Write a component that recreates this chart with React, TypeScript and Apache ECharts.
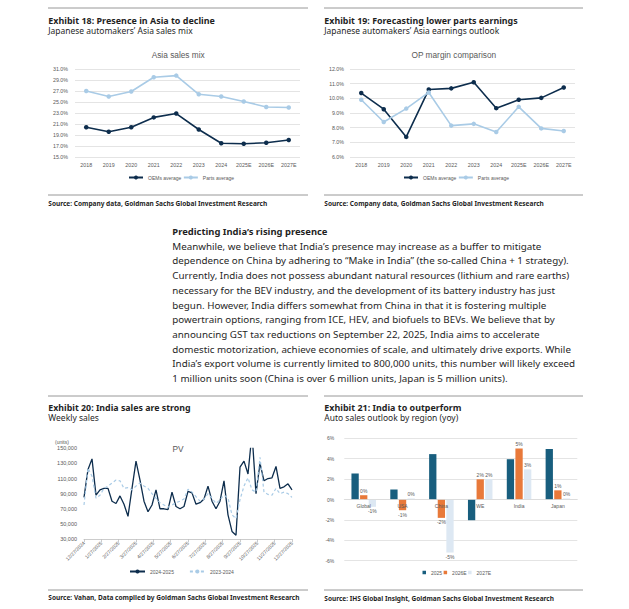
import React, { useEffect, useRef } from 'react';
import * as echarts from 'echarts';

// ---------- data ----------
const years = ['2018', '2019', '2020', '2021', '2022', '2023', '2024', '2025E', '2026E', '2027E'];
const asiaMixOEM = [20.4, 19.6, 20.4, 22.2, 22.9, 20.0, 17.5, 17.4, 17.6, 18.1];
const asiaMixParts = [27.0, 26.0, 26.9, 29.5, 29.8, 26.4, 26.0, 25.1, 24.1, 24.0];
const opMarginOEM = [10.36, 9.26, 7.37, 10.6, 10.68, 11.1, 9.33, 9.9, 10.03, 10.74];
const opMarginParts = [9.9, 8.39, 9.3, 10.4, 8.14, 8.26, 7.7, 9.42, 7.95, 7.77];

const monthLabels = [
  '12/27/2024', '1/27/2025', '2/27/2025', '3/27/2025', '4/27/2025', '5/27/2025', '6/27/2025',
  '7/27/2025', '8/27/2025', '9/27/2025', '10/27/2025', '11/27/2025', '12/27/2025',
];
const sales2425 = [
  85000, 122000, 136000, 88000, 95000, 97000, 97000, 80000, 77000, 87000,
  76000, 60000, 97000, 133000, 108000, 80000, 66000, 75000, 95000, 70000,
  70000, 69000, 92000, 73000, 70000, 73000, 93000, 91000, 76000, 78000,
  83000, 100000, 80000, 70000, 80000, 107000, 62000, 40000, 35000, 125000,
  133000, 116000, 170000, 90000, 130000, 107000, 110000, 111000, 126000, 97000,
  99000, 103000, 95000,
];
const sales2324 = [
  75000, 124000, 113000, 84000, 88000, 97000, 100000, 104000, 108000, 107000,
  97000, 98000, 95000, 100000, 104000, 100000, 97000, 90000, 84000, 78000,
  75000, 72000, 75000, 78000, 80000, 83000, 96000, 92000, 86000, 80000,
  83000, 90000, 84000, 77000, 82000, 88000, 84000, 62000, 57000, 82000,
  100000, 111000, 95000, 92000, 138000, 92000, 89000, 88000, 97000, 90000,
  92000, 90000, 85000,
];

const regions = ['Global', 'USA', 'China', 'WE', 'India', 'Japan'];
const yoy2025 = [2.55, 0.98, 4.45, -2.03, 3.95, 4.95];
const yoy2026E = [0.42, -1.05, -1.8, 1.98, 5.0, 0.9];
const yoy2027E = [-0.72, 0.1, -5.2, 2.0, 2.95, 0.1];

const paragraphTitle = 'Predicting India\u2019s rising presence';
const paragraphLines = [
  'Meanwhile, we believe that India\u2019s presence may increase as a buffer to mitigate',
  'dependence on China by adhering to \u201cMake in India\u201d (the so-called China + 1 strategy).',
  'Currently, India does not possess abundant natural resources (lithium and rare earths)',
  'necessary for the BEV industry, and the development of its battery industry has just',
  'begun. However, India differs somewhat from China in that it is fostering multiple',
  'powertrain options, ranging from ICE, HEV, and biofuels to BEVs. We believe that by',
  'announcing GST tax reductions on September 22, 2025, India aims to accelerate',
  'domestic motorization, achieve economies of scale, and ultimately drive exports. While',
  'India\u2019s export volume is currently limited to 800,000 units, this number will likely exceed',
  '1 million units soon (China is over 6 million units, Japan is 5 million units).',
];

// ---------- style ----------
const W = 629;
const H = 609;
const NAVY = '#0d2d4d';
const LIGHT = '#a9cbe6';
const DARK_TEAL = '#185e7e';
const ORANGE = '#e8793a';
const PALE = '#dde8f3';
const GRAY_TXT = '#595959';
const GRID_LINE = '#d9d9d9';
const RULE = '#7f7f7f';
const HEAD_FAMILY = '"Noto Sans", sans-serif';
const CHART_FAMILY = '"Liberation Sans", Arial, sans-serif';

function weekLabels(n: number): string[] {
  const out: string[] = [];
  const start = new Date(2024, 11, 27);
  for (let i = 0; i < n; i++) {
    const d = new Date(start.getTime());
    d.setDate(d.getDate() + 7 * i);
    out.push(`${d.getMonth() + 1}/${d.getDate()}/${d.getFullYear()}`);
  }
  return out;
}

let ctx: CanvasRenderingContext2D | null = null;
function measure(text: string, font: string): number {
  if (!ctx) ctx = document.createElement('canvas').getContext('2d');
  if (!ctx) return 0;
  ctx.font = font;
  return ctx.measureText(text).width;
}

function headText(text: string, x: number, y: number, size: number, weight: string, targetW: number | null, fill = '#1f1f1f', scaleOverride?: number) {
  const font = `${weight} ${size}px ${HEAD_FAMILY}`;
  let sx = 1;
  if (scaleOverride != null) sx = scaleOverride;
  else if (targetW) {
    const w = measure(text, font);
    if (w > 0) sx = targetW / w;
  }
  return {
    type: 'text',
    x,
    y,
    scaleX: sx,
    silent: true,
    style: {
      text,
      fontSize: size,
      fontWeight: weight,
      fontFamily: HEAD_FAMILY,
      fill,
      align: 'left',
      verticalAlign: 'middle',
    },
  };
}

function chartText(text: string, x: number, y: number, size: number, align = 'center') {
  return {
    type: 'text',
    x,
    y,
    silent: true,
    style: { text, fontSize: size, fontFamily: CHART_FAMILY, fill: GRAY_TXT, align, verticalAlign: 'middle' },
  };
}

function rule(x1: number, x2: number, y: number) {
  return {
    type: 'line',
    silent: true,
    shape: { x1, y1: y, x2, y2: y },
    style: { stroke: RULE, lineWidth: 0.8 },
  };
}

export default function App() {
  const ref = useRef<HTMLDivElement>(null);

  useEffect(() => {
    if (!ref.current) return;
    const chart = echarts.init(ref.current, null, { renderer: 'svg', width: W, height: H });

    const tick = { color: GRAY_TXT, fontSize: 5.3, fontFamily: CHART_FAMILY };
    const split = { show: true, lineStyle: { color: GRID_LINE, width: 0.7 } };

    const paraFont = `normal 9.5px ${HEAD_FAMILY}`;
    const m1 = measure(paragraphLines[0], paraFont);
    const paraScale = m1 > 0 ? 369.7 / m1 : 1;

    // Exhibit 21 grid: symmetric value range, so the category axis sits at mid-height
    const g21 = { left: 344.3, top: 438.3, width: 233, height: 122.4 };

    const graphics: any[] = [
      // Exhibit 18
      rule(48, 308, 8), rule(48, 308, 195),
      headText('Exhibit 18: Presence in Asia to decline', 48.3, 20, 9.5, 'bold', 166.7),
      headText('Japanese automakers\u2019 Asia sales mix', 48.3, 30.7, 9, 'normal', 144.7),
      headText('Source: Company data, Goldman Sachs Global Investment Research', 48.3, 203, 7.5, 'bold', 219.7),
      chartText('Asia sales mix', 178.2, 55, 8.3),
      // Exhibit 19
      rule(324, 583, 8), rule(324, 583, 195),
      headText('Exhibit 19: Forecasting lower parts earnings', 324.3, 20, 9.5, 'bold', 193.4),
      headText('Japanese automakers\u2019 Asia earnings outlook', 324.3, 30.7, 9, 'normal', 175),
      headText('Source: Company data, Goldman Sachs Global Investment Research', 324.3, 203, 7.5, 'bold', 220),
      chartText('OP margin comparison', 453.8, 55, 8.3),
      // Exhibit 20
      rule(48, 308, 396), rule(48, 308, 590),
      headText('Exhibit 20: India sales are strong', 48.3, 407.3, 9.5, 'bold', 142.7),
      headText('Weekly sales', 48.3, 417.7, 9, 'normal', 50.7),
      headText('Source: Vahan, Data compiled by Goldman Sachs Global Investment Research', 48.3, 597.3, 7.5, 'bold', 251.7),
      chartText('PV', 178, 449, 8.3),
      chartText('(units)', 55, 441.5, 5, 'left'),
      // Exhibit 21
      rule(324, 583, 396), rule(324, 583, 590),
      headText('Exhibit 21: India to outperform', 324.3, 407.3, 9.5, 'bold', 137.4),
      headText('Auto sales outlook by region (yoy)', 324.3, 417.7, 9, 'normal', 134),
      headText('Source: IHS Global Insight, Goldman Sachs Global Investment Research', 324.3, 597.3, 7.5, 'bold', 230),
      // paragraph
      headText(paragraphTitle, 172.3, 231.3, 9.5, 'bold', 155.3),
    ];
    paragraphLines.forEach((line, i) => {
      graphics.push(headText(line, 172.3, 246.3 + i * 14.7, 9.5, 'normal', null, '#1f1f1f', paraScale));
    });

    const barLabel = (vals: number[]) =>
      vals.map((v) => ({ value: v, label: { position: v < 0 ? 'bottom' : 'top' } }));

    const legendText = { fontSize: 5, color: GRAY_TXT, fontFamily: CHART_FAMILY };

    const option: any = {
      animation: false,
      backgroundColor: '#ffffff',
      textStyle: { fontFamily: CHART_FAMILY },
      grid: [
        { left: 75, top: 69, width: 225, height: 88 },
        { left: 350, top: 69, width: 225, height: 88 },
        { left: 84, top: 448.3, width: 208, height: 90.7 },
        g21,
      ],
      xAxis: [
        { gridIndex: 0, type: 'category', data: years, axisLine: { show: false }, axisTick: { show: false }, axisLabel: { ...tick, margin: 5, interval: 0 } },
        { gridIndex: 1, type: 'category', data: years, axisLine: { show: false }, axisTick: { show: false }, axisLabel: { ...tick, margin: 5, interval: 0 } },
        { gridIndex: 2, type: 'category', data: weekLabels(sales2425.length), boundaryGap: false, show: false, position: 'bottom' },
        {
          gridIndex: 2, type: 'category', data: monthLabels, boundaryGap: false, position: 'bottom',
          axisLine: { onZero: false, lineStyle: { color: '#bfbfbf', width: 0.8 } },
          axisTick: { show: true, length: 3, interval: 0, lineStyle: { color: '#bfbfbf', width: 0.8 } },
          axisLabel: { ...tick, fontSize: 5, rotate: 45, interval: 0, margin: 3 },
        },
        {
          gridIndex: 3, type: 'category', data: regions, position: 'bottom',
          offset: -g21.height / 2,
          z: 5,
          axisLine: { onZero: false, lineStyle: { color: GRID_LINE, width: 0.7 } },
          axisTick: { show: false },
          axisLabel: { ...tick, fontSize: 5, margin: 4, interval: 0 },
        },
      ],
      yAxis: [
        { gridIndex: 0, type: 'value', min: 15, max: 31, interval: 2, axisLine: { show: false }, axisTick: { show: false }, splitLine: split, axisLabel: { ...tick, margin: 7, formatter: (v: number) => v.toFixed(1) + '%' } },
        { gridIndex: 1, type: 'value', min: 6, max: 12, interval: 1, axisLine: { show: false }, axisTick: { show: false }, splitLine: split, axisLabel: { ...tick, margin: 6, formatter: (v: number) => v.toFixed(1) + '%' } },
        { gridIndex: 2, type: 'value', min: 30000, max: 150000, interval: 20000, axisLine: { show: false }, axisTick: { show: false }, splitLine: { show: false }, axisLabel: { ...tick, fontSize: 5.5, margin: 7, formatter: (v: number) => v.toLocaleString('en-US') } },
        { gridIndex: 3, type: 'value', min: -6, max: 6, interval: 2, axisLine: { show: false }, axisTick: { show: false }, splitLine: split, axisLabel: { ...tick, fontSize: 5, margin: 10, formatter: (v: number) => v + '%' } },
      ],
      legend: [
        { data: ['OEMs average', 'Parts average'], left: 128, top: 175, itemWidth: 14, itemHeight: 5, itemGap: 1.5, padding: 0, selectedMode: false, textStyle: legendText },
        { data: ['OEMs average', 'Parts average'], left: 403, top: 175, itemWidth: 14, itemHeight: 5, itemGap: 1.5, padding: 0, selectedMode: false, textStyle: legendText },
        { data: ['2024-2025', '2023-2024'], left: 129, top: 569, itemWidth: 15, itemHeight: 5, itemGap: 15, padding: 0, selectedMode: false, textStyle: legendText },
        { data: ['2025', '2026E', '2027E'], left: 422.5, top: 570, icon: 'rect', itemWidth: 3.5, itemHeight: 3.5, itemGap: 1.5, padding: 0, selectedMode: false, textStyle: legendText },
      ],
      series: [
        { name: 'OEMs average', type: 'line', xAxisIndex: 0, yAxisIndex: 0, data: asiaMixOEM, symbol: 'circle', symbolSize: 4.5, lineStyle: { color: NAVY, width: 1.6 }, itemStyle: { color: NAVY } },
        { name: 'Parts average', type: 'line', xAxisIndex: 0, yAxisIndex: 0, data: asiaMixParts, symbol: 'circle', symbolSize: 4.5, lineStyle: { color: LIGHT, width: 1.6 }, itemStyle: { color: LIGHT } },
        { name: 'OEMs average', type: 'line', xAxisIndex: 1, yAxisIndex: 1, data: opMarginOEM, symbol: 'circle', symbolSize: 4.5, lineStyle: { color: NAVY, width: 1.6 }, itemStyle: { color: NAVY } },
        { name: 'Parts average', type: 'line', xAxisIndex: 1, yAxisIndex: 1, data: opMarginParts, symbol: 'circle', symbolSize: 4.5, lineStyle: { color: LIGHT, width: 1.6 }, itemStyle: { color: LIGHT } },
        { name: '2024-2025', type: 'line', xAxisIndex: 2, yAxisIndex: 2, data: sales2425, symbol: 'none', lineStyle: { color: NAVY, width: 1.3 }, itemStyle: { color: NAVY } },
        { name: '2023-2024', type: 'line', xAxisIndex: 2, yAxisIndex: 2, data: sales2324, symbol: 'none', lineStyle: { color: LIGHT, width: 1.2, type: [3, 2.5] }, itemStyle: { color: LIGHT } },
        { name: '2025', type: 'bar', xAxisIndex: 4, yAxisIndex: 3, data: yoy2025, barWidth: 7.3, barGap: '18%', itemStyle: { color: DARK_TEAL } },
        {
          name: '2026E', type: 'bar', xAxisIndex: 4, yAxisIndex: 3, data: barLabel(yoy2026E), barWidth: 7.3, barGap: '18%', itemStyle: { color: ORANGE },
          label: { show: true, fontSize: 5, color: GRAY_TXT, distance: 2, formatter: (p: any) => Math.round(p.value) + '%' },
        },
        {
          name: '2027E', type: 'bar', xAxisIndex: 4, yAxisIndex: 3, data: barLabel(yoy2027E), barWidth: 7.3, barGap: '18%', itemStyle: { color: PALE },
          label: { show: true, fontSize: 5, color: GRAY_TXT, distance: 2, formatter: (p: any) => Math.round(p.value) + '%' },
        },
      ],
      graphic: graphics,
    };

    chart.setOption(option);
    return () => chart.dispose();
  }, []);

  return (
    <div
      ref={ref}
      style={{ position: 'fixed', left: 0, top: 0, width: W, height: H, background: '#ffffff' }}
    />
  );
}
